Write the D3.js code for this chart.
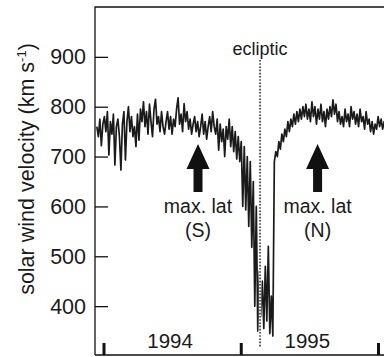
<!DOCTYPE html>
<html>
<head>
<meta charset="utf-8">
<script src="https://cdn.jsdelivr.net/npm/d3@7"></script>
<style>
  body { margin: 0; background: #fff; }
  text { font-family: "Liberation Sans", Arial, sans-serif; fill: #1a1a1a; }
</style>
</head>
<body>
<div id="chart"></div>
<script>
// solar wind speed, one sample every 4 days from 13 Dec 1993
const startDate = new Date(1993, 11, 13);
const stepDays = 4;
const speed = [
  760, 740, 775, 722, 765, 780, 750, 790, 703, 770, 745, 785, 683, 760, 775, 740,
  673, 765, 790, 693, 770, 800, 750, 780, 740, 760, 720, 785, 733, 795, 770, 810,
  760, 790, 745, 805, 770, 740, 795, 815, 765, 780, 750, 790, 760, 745,
  770, 790, 755, 780, 745, 775, 760, 795, 818, 765, 785, 750, 806, 770, 790, 755,
  775, 745, 765, 780, 750, 770, 740, 760, 785, 745, 770, 735, 760, 780, 750, 790,
  760, 745, 775, 713, 765, 730, 755, 700,
  760, 735, 775, 720, 760, 710, 750, 695, 740, 690, 730, 600, 720, 593, 700, 560,
  690, 518, 650, 400, 600, 350, 470, 380, 450, 355, 480, 370, 520, 345, 420, 340,
  690, 710, 700, 730, 715, 745, 730, 755, 740, 770, 750, 775, 760, 785, 765, 790,
  770, 795, 775, 800, 780, 805, 775, 795, 770, 810, 780, 800, 765, 795, 775, 805,
  770, 790, 760, 795, 775, 800, 780, 814, 785, 805, 770, 790, 765, 780, 760, 795,
  770, 785, 760, 800, 775, 790, 765, 785, 760, 795, 770, 780, 755, 790, 765, 775,
  750, 770, 745, 765, 755, 780, 760, 775, 755, 770, 765
];

const yTicks = [400, 500, 600, 700, 800, 900];
const yearTicks = [1994, 1995, 1996];
const yearLabels = [1994, 1995];
const eclipticDate = new Date(1995, 1, 20);
const maxLat = [
  { date: new Date(1994, 8, 8), label: "(S)" },
  { date: new Date(1995, 6, 23), label: "(N)" }
];

const data = speed.map((v, i) => ({
  date: d3.timeDay.offset(startDate, i * stepDays),
  value: v
}));

const margin = { top: 7, right: 0, bottom: 2, left: 95 };
const width = 384 - margin.left - margin.right,
  height = 357 - margin.top - margin.bottom;

const root = d3.select("#chart")
  .append("svg")
  .attr("width", 384)
  .attr("height", 357);

const svg = root.append("g")
  .attr("transform", "translate(" + margin.left + "," + margin.top + ")");

const x = d3.scaleTime()
  .domain([new Date(1994, 0, 1), new Date(1996, 0, 1)])
  .range([9, 283.5]);

const y = d3.scaleLinear()
  .domain([302, 1000])
  .range([height, 0]);

svg.append("clipPath")
  .attr("id", "plot")
  .append("rect")
  .attr("width", width)
  .attr("height", height);

// data trace
svg.append("path")
  .datum(data)
  .attr("clip-path", "url(#plot)")
  .attr("fill", "none")
  .attr("stroke", "#1a1a1a")
  .attr("stroke-width", 1.7)
  .attr("stroke-linejoin", "round")
  .attr("d", d3.line()
    .x(d => x(d.date))
    .y(d => y(d.value)));

// ecliptic crossing
const ex = x(eclipticDate);
svg.append("line")
  .attr("x1", ex).attr("x2", ex)
  .attr("y1", 53).attr("y2", 340)
  .attr("stroke", "#fff")
  .attr("stroke-width", 2.5);
svg.append("line")
  .attr("x1", ex).attr("x2", ex)
  .attr("y1", 53).attr("y2", 340)
  .attr("stroke", "#333")
  .attr("stroke-width", 1.6)
  .attr("stroke-dasharray", "1.6,1.6");
svg.append("text")
  .attr("x", ex)
  .attr("y", 48)
  .attr("text-anchor", "middle")
  .attr("font-size", 18)
  .text("ecliptic");

// max latitude arrows
const ann = svg.selectAll(".maxlat")
  .data(maxLat)
  .enter()
  .append("g")
  .attr("class", "maxlat")
  .attr("transform", d => "translate(" + x(d.date) + ",0)");

ann.append("path")
  .attr("d", "M0,137 L11.5,162 L4.5,162 L4.5,185 L-4.5,185 L-4.5,162 L-11.5,162 Z")
  .attr("fill", "#111");

ann.append("text")
  .attr("y", 206)
  .attr("text-anchor", "middle")
  .attr("font-size", 19.5)
  .text("max. lat");

ann.append("text")
  .attr("y", 230)
  .attr("text-anchor", "middle")
  .attr("font-size", 19.5)
  .text(d => d.label);

// frame
svg.append("path")
  .attr("d", "M0," + height + " L0,0 L" + width + ",0")
  .attr("fill", "none")
  .attr("stroke", "#111")
  .attr("stroke-width", 1.3);
svg.append("line")
  .attr("x1", 0).attr("x2", width)
  .attr("y1", height).attr("y2", height)
  .attr("stroke", "#111")
  .attr("stroke-width", 1.3);

// y axis
const yAxis = d3.axisLeft(y)
  .tickValues(yTicks)
  .tickSizeInner(-13)
  .tickSizeOuter(0);
const ya = svg.append("g").call(yAxis);
ya.select(".domain").remove();
ya.selectAll(".tick line").attr("stroke", "#111").attr("stroke-width", 1.3);
ya.selectAll(".tick text")
  .attr("x", -9)
  .attr("font-family", "Liberation Sans, Arial, sans-serif")
  .attr("font-size", 21.5)
  .attr("fill", "#1a1a1a");

// year ticks
svg.selectAll(".yeartick")
  .data(yearTicks)
  .enter()
  .append("line")
  .attr("class", "yeartick")
  .attr("x1", d => x(new Date(d, 0, 1)))
  .attr("x2", d => x(new Date(d, 0, 1)))
  .attr("y1", height - 12)
  .attr("y2", height)
  .attr("stroke", "#111")
  .attr("stroke-width", 3);

svg.selectAll(".yearlabel")
  .data(yearLabels)
  .enter()
  .append("text")
  .attr("class", "yearlabel")
  .attr("x", d => x(new Date(d, 6, 1)) - 2)
  .attr("y", height - 7)
  .attr("text-anchor", "middle")
  .attr("font-size", 20.5)
  .text(d => d);

// y label
const yl = root.append("text")
  .attr("transform", "translate(34,169) rotate(-90)")
  .attr("text-anchor", "middle")
  .attr("font-size", 21.5);
yl.append("tspan").text("solar wind velocity (km s");
yl.append("tspan").attr("dy", -8).attr("font-size", 13).text("-1");
yl.append("tspan").attr("dy", 8).text(")");
</script>
</body>
</html>
